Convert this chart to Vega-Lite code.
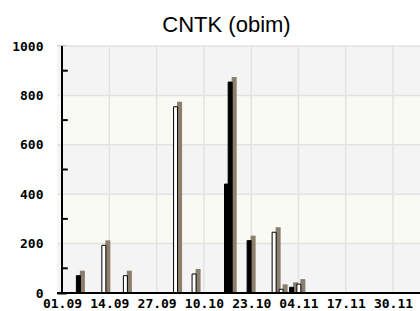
{
  "$schema": "https://vega.github.io/schema/vega-lite/v6.json",
  "width": 363,
  "height": 247,
  "autosize": "none",
  "padding": {"left": 57, "top": 46, "right": 0, "bottom": 18},
  "background": "white",
  "title": {"text": "CNTK (obim)", "font": "Liberation Sans", "fontSize": 22, "fontWeight": "normal", "color": "black", "dx": -12, "offset": 3},
  "config": {
    "view": {"stroke": null},
    "axis": {"grid": false, "zindex": 1, "domain": false, "ticks": true, "tickColor": "black", "tickWidth": 2, "labelColor": "black", "labelFont": "DejaVu Sans Mono", "labelFontWeight": "bold", "labelFontSize": 13, "title": null}
  },
  "datasets": {
    "bands": [
      {"lo": 0, "hi": 200, "band": "g"},
      {"lo": 200, "hi": 400, "band": "c"},
      {"lo": 400, "hi": 600, "band": "g"},
      {"lo": 600, "hi": 800, "band": "c"},
      {"lo": 800, "hi": 1000, "band": "g"}
    ],
    "hgrid": [{"v": 200}, {"v": 400}, {"v": 600}, {"v": 800}, {"v": 1000}],
    "base": [{"v": 0}],
    "left": [{"d": "2010-09-01T00:00:00Z"}],
    "vgrid": [
      {"d": "2010-09-14T00:00:00Z"},
      {"d": "2010-09-27T00:00:00Z"},
      {"d": "2010-10-10T00:00:00Z"},
      {"d": "2010-10-23T00:00:00Z"},
      {"d": "2010-11-04T23:00:00Z"},
      {"d": "2010-11-17T23:00:00Z"},
      {"d": "2010-11-30T23:00:00Z"}
    ],
    "bars": [
      {"date": "2010-09-05T12:00:00Z", "value": 70, "style": "solid"},
      {"date": "2010-09-12T12:00:00Z", "value": 193, "style": "hollow"},
      {"date": "2010-09-18T10:00:00Z", "value": 70, "style": "hollow"},
      {"date": "2010-10-02T05:00:00Z", "value": 754, "style": "hollow"},
      {"date": "2010-10-07T07:00:00Z", "value": 77, "style": "hollow"},
      {"date": "2010-10-16T05:00:00Z", "value": 441, "style": "solid"},
      {"date": "2010-10-17T05:00:00Z", "value": 854, "style": "solid"},
      {"date": "2010-10-22T10:00:00Z", "value": 212, "style": "solid"},
      {"date": "2010-10-29T07:00:00Z", "value": 246, "style": "hollow"},
      {"date": "2010-10-31T05:00:00Z", "value": 15, "style": "hollow"},
      {"date": "2010-11-03T02:00:00Z", "value": 23, "style": "solid"},
      {"date": "2010-11-05T02:00:00Z", "value": 36, "style": "hollow"}
    ],
    "minor": [{"v": 100}, {"v": 300}, {"v": 500}, {"v": 700}, {"v": 900}]
  },
  "layer": [
    {
      "data": {"name": "bands"},
      "mark": {"type": "rect"},
      "encoding": {
        "y": {"field": "lo", "type": "quantitative", "scale": {"domain": [0, 1000]},
          "axis": {"values": [0, 200, 400, 600, 800, 1000], "format": "d", "offset": -9, "tickSize": 9, "labelPadding": 14}},
        "y2": {"field": "hi"},
        "color": {"field": "band", "type": "nominal", "scale": {"domain": ["g", "c"], "range": ["#f4f4f4", "#fafaf4"]}, "legend": null}
      }
    },
    {
      "data": {"name": "hgrid"},
      "mark": {"type": "rule", "color": "#e2e2e2", "strokeWidth": 1.5},
      "encoding": {
        "y": {"field": "v", "type": "quantitative", "scale": {"domain": [0, 1000]}}
      }
    },
    {
      "data": {"name": "vgrid"},
      "mark": {"type": "rule", "color": "#e2e2e2", "strokeWidth": 1.5},
      "encoding": {
        "x": {"field": "d", "type": "temporal",
          "scale": {"type": "utc", "domain": [{"year": 2010, "month": 9, "date": 1, "utc": true}, {"year": 2010, "month": 12, "date": 7, "utc": true}]},
          "axis": {"values": [
            {"year": 2010, "month": 9, "date": 1, "utc": true},
            {"year": 2010, "month": 9, "date": 14, "utc": true},
            {"year": 2010, "month": 9, "date": 27, "utc": true},
            {"year": 2010, "month": 10, "date": 10, "utc": true},
            {"year": 2010, "month": 10, "date": 23, "utc": true},
            {"year": 2010, "month": 11, "date": 4, "hours": 23, "utc": true},
            {"year": 2010, "month": 11, "date": 17, "hours": 23, "utc": true},
            {"year": 2010, "month": 11, "date": 30, "hours": 23, "utc": true}
          ], "format": "%d.%m", "offset": -8, "tickSize": 8, "labelPadding": 4, "labelFlush": false, "labelOverlap": false}}
      }
    },
    {
      "data": {"name": "bars"},
      "mark": {"type": "bar", "color": "#8b7e6c", "size": 5, "xOffset": 4, "yOffset": -5, "y2Offset": 8, "clip": true},
      "encoding": {
        "x": {"field": "date", "type": "temporal"},
        "y": {"field": "value", "type": "quantitative"},
        "y2": {"datum": 0}
      }
    },
    {
      "data": {"name": "bars"},
      "mark": {"type": "bar", "size": 4, "stroke": "black", "strokeWidth": 1},
      "encoding": {
        "x": {"field": "date", "type": "temporal"},
        "y": {"field": "value", "type": "quantitative"},
        "fill": {"field": "style", "type": "nominal", "scale": {"domain": ["hollow", "solid"], "range": ["white", "black"]}, "legend": null}
      }
    },
    {
      "data": {"name": "base"},
      "mark": {"type": "rule", "color": "black", "strokeWidth": 2},
      "encoding": {
        "y": {"field": "v", "type": "quantitative"}
      }
    },
    {
      "data": {"name": "left"},
      "mark": {"type": "rule", "color": "black", "strokeWidth": 2},
      "encoding": {
        "x": {"field": "d", "type": "temporal"}
      }
    },
    {
      "data": {"name": "minor"},
      "mark": {"type": "rule", "color": "black", "strokeWidth": 2},
      "encoding": {
        "x": {"datum": {"year": 2010, "month": 9, "date": 1, "utc": true}, "type": "temporal"},
        "x2": {"datum": {"year": 2010, "month": 9, "date": 2, "hours": 14, "utc": true}},
        "y": {"field": "v", "type": "quantitative"}
      }
    }
  ]
}
